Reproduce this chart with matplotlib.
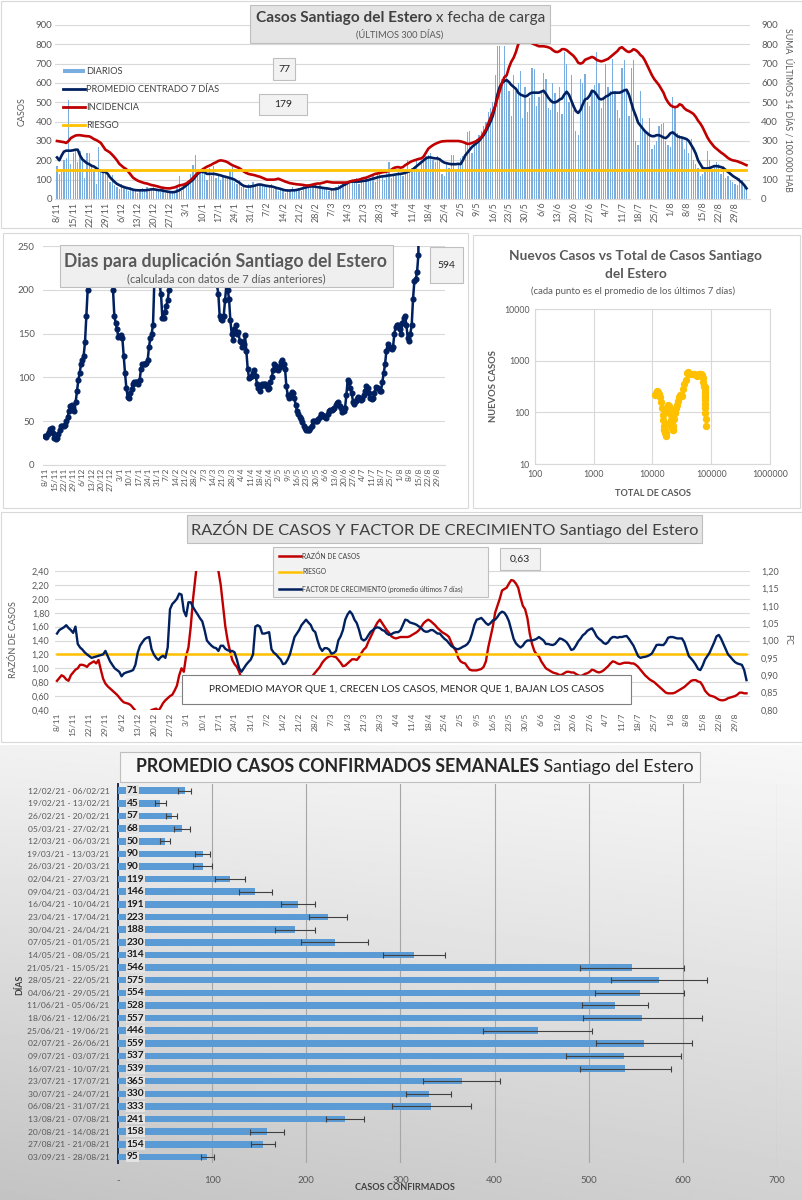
import numpy as np
import pandas as pd
import matplotlib
matplotlib.use("Agg")
import matplotlib.pyplot as plt
from matplotlib.patches import Rectangle
from matplotlib.lines import Line2D
from matplotlib.ticker import FuncFormatter, NullLocator

plt.rcParams['font.family'] = ['Lato', 'DejaVu Sans']

W, H = 803, 1200

# ---------------- data ----------------
start_date = "2020-11-08"
n_days = 300

diarios = [
    170, 130, 140, 200, 210, 510, 180,
    240, 250, 190, 250, 200, 110, 240,
    240, 170, 150, 80, 270, 140, 140,
    150, 120, 90, 125, 70, 60, 50,
    80, 60, 50, 40, 60, 50, 40,
    30, 50, 55, 40, 60, 50, 50,
    60, 45, 40, 35, 50, 30, 40,
    35, 30, 40, 60, 120, 40, 50,
    80, 100, 130, 175, 225, 130, 150,
    140, 130, 100, 160, 120, 170, 110,
    130, 100, 120, 120, 110, 150, 165,
    90, 80, 100, 60, 70, 50, 80,
    60, 90, 70, 80, 70, 80, 60,
    70, 60, 80, 50, 60, 40, 50,
    40, 30, 50, 40, 60, 50, 50,
    55, 40, 70, 60, 80, 60, 70,
    70, 50, 70, 60, 50, 60, 40,
    50, 40, 60, 70, 70, 90, 80,
    90, 80, 100, 90, 110, 80, 100,
    90, 110, 100, 100, 120, 90, 130,
    130, 120, 100, 140, 190, 110, 130,
    120, 140, 130, 120, 150, 200, 140,
    160, 170, 200, 150, 190, 210, 220,
    230, 240, 200, 190, 220, 210, 130,
    120, 180, 160, 230, 230, 140, 180,
    210, 220, 300, 345, 350, 240, 280,
    310, 330, 350, 380, 400, 450, 470,
    500, 640, 790, 790, 620, 790, 640,
    560, 430, 640, 560, 600, 660, 420,
    580, 450, 520, 680, 670, 480, 530,
    550, 650, 620, 470, 460, 600, 550,
    450, 580, 440, 760, 700, 500, 640,
    460, 350, 330, 620, 600, 645, 500,
    480, 560, 590, 760, 600, 470, 520,
    700, 580, 560, 725, 560, 460, 420,
    680, 720, 560, 430, 680, 720, 300,
    280, 560, 420, 350, 330, 420, 260,
    280, 300, 380, 390, 395, 300, 280,
    270, 530, 480, 340, 330, 310, 260,
    300, 240, 310, 200, 180, 160, 120,
    130, 140, 250, 200, 150, 170, 190,
    180, 130, 170, 110, 120, 100, 90,
    80, 70, 110, 100, 60, 50,
]

promedio_7d = [
    215, 200, 225, 245, 250, 250, 250, 252, 255, 255,
    225, 205, 195, 185, 180, 172, 168, 160, 150, 145,
    140, 140, 130, 112, 100, 88, 78, 72, 66, 62,
    58, 55, 52, 48, 46, 45, 45, 45, 45, 46,
    48, 50, 50, 48, 46, 45, 43, 40, 38, 36,
    35, 36, 40, 45, 52, 60, 70, 80, 90, 100,
    115, 130, 140, 140, 138, 130, 130, 130, 130, 128,
    125, 122, 118, 115, 112, 108, 105, 100, 92, 85,
    75, 68, 65, 64, 65, 67, 70, 74, 75, 73,
    70, 68, 66, 65, 62, 58, 55, 52, 48, 45,
    44, 44, 45, 45, 47, 50, 53, 57, 60, 63,
    65, 65, 64, 61, 60, 58, 56, 55, 53, 50,
    50, 52, 55, 62, 70, 75, 82, 88, 90, 90,
    90, 90, 92, 94, 95, 98, 102, 105, 108, 112,
    115, 117, 118, 120, 122, 123, 125, 127, 129, 130,
    132, 135, 140, 145, 150, 160, 170, 180, 190, 200,
    210, 215, 215, 212, 210, 210, 205, 195, 188, 185,
    182, 180, 180, 180, 182, 180, 200, 225, 240, 255,
    270, 280, 290, 300, 315, 330, 350, 375, 400, 430,
    480, 540, 580, 600, 610, 615, 605, 590, 580, 570,
    550, 540, 535, 530, 535, 545, 550, 550, 550, 550,
    555, 560, 545, 525, 510, 500, 500, 505, 515, 520,
    540, 555, 540, 510, 480, 455, 445, 460, 490, 515,
    520, 535, 560, 555, 540, 520, 515, 520, 530, 535,
    545, 550, 550, 550, 550, 555, 562, 565, 540, 500,
    460, 430, 395, 380, 365, 350, 340, 330, 325, 325,
    330, 330, 325, 318, 315, 325, 340, 345, 335, 325,
    320, 318, 314, 310, 300, 280, 260, 235, 200, 180,
    160, 158, 158, 160, 165, 170, 170, 168, 165, 160,
    150, 140, 130, 120, 112, 105, 95, 85, 72, 55,
]

incidencia = [
    300, 298, 296, 294, 290, 300, 315, 322, 328, 330,
    330, 328, 326, 325, 324, 318, 310, 305, 298, 290,
    272, 255, 248, 240, 228, 215, 200, 182, 172, 162,
    155, 140, 125, 110, 102, 95, 90, 86, 82, 80,
    76, 72, 70, 67, 64, 60, 58, 56, 55, 55,
    58, 60, 65, 70, 72, 75, 80, 88, 98, 110,
    122, 135, 145, 152, 160, 167, 172, 178, 185, 190,
    197, 200, 198, 195, 190, 182, 175, 170, 165, 160,
    152, 142, 135, 130, 127, 125, 122, 118, 115, 110,
    105, 100, 100, 100, 100, 102, 105, 100, 95, 90,
    86, 82, 80, 78, 76, 75, 74, 72, 70, 70,
    72, 75, 78, 80, 80, 83, 86, 90, 88, 86,
    85, 85, 85, 85, 85, 85, 86, 90, 94, 96,
    98, 100, 104, 108, 110, 115, 120, 125, 130, 132,
    135, 138, 140, 142, 145, 152, 160, 164, 165, 162,
    165, 175, 182, 190, 196, 200, 204, 208, 210, 220,
    240, 260, 270, 278, 285, 290, 295, 298, 299, 300,
    300, 300, 300, 300, 300, 298, 295, 290, 285, 286,
    290, 295, 300, 310, 320, 340, 360, 390, 420, 450,
    480, 520, 560, 600, 630, 640, 680, 710, 730, 760,
    800, 820, 825, 830, 825, 815, 805, 800, 795, 790,
    790, 790, 788, 785, 780, 770, 762, 760, 765, 775,
    775, 770, 760, 750, 740, 725, 705, 700, 705, 720,
    725, 730, 735, 730, 720, 715, 712, 715, 720, 725,
    735, 745, 755, 765, 780, 785, 775, 765, 760, 765,
    775, 770, 760, 745, 735, 715, 690, 665, 640, 620,
    605, 590, 570, 550, 520, 500, 485, 478, 475, 478,
    490, 485, 470, 460, 455, 448, 440, 425, 405, 390,
    370, 345, 320, 300, 285, 270, 260, 250, 240, 232,
    222, 212, 205, 200, 198, 195, 190, 186, 180, 175,
]
riesgo_incidencia = 150

dias_duplicacion = [
    33, 32, 35, 38, 41, 42, 36, 31, 30, 31,
    35, 40, 44, 45, 45, 46, 50, 55, 62, 67,
    68, 65, 62, 72, 85, 97, 105, 115, 120, 125,
    140, 170, 200, 240, 300, 400, 500, 500, 500, 500,
    500, 500, 500, 500, 500, 500, 500, 500, 450, 350,
    260, 200, 170, 162, 155, 146, 147, 148, 145, 125,
    105, 88, 78, 77, 82, 87, 92, 95, 95, 95,
    93, 97, 110, 115, 115, 115, 116, 120, 135, 145,
    150, 160, 210, 320, 400, 260, 205, 195, 168, 168,
    175, 182, 188, 200, 225, 300, 450, 500, 500, 500,
    500, 500, 500, 500, 500, 500, 500, 500, 500, 500,
    500, 500, 500, 500, 500, 500, 500, 500, 500, 500,
    500, 500, 500, 500, 500, 450, 350, 270, 220, 205,
    195, 170, 167, 165, 170, 188, 205, 200, 190, 165,
    150, 143, 155, 160, 150, 152, 142, 140, 135, 138,
    148, 130, 110, 99, 100, 102, 105, 108, 102, 92,
    88, 85, 90, 92, 92, 92, 90, 87, 88, 95,
    100, 108, 115, 113, 110, 108, 112, 118, 120, 115,
    110, 90, 80, 77, 80, 83, 82, 77, 68, 62,
    58, 55, 52, 49, 45, 42, 40, 40, 40, 42,
    45, 50, 50, 50, 50, 52, 55, 58, 57, 56,
    55, 54, 58, 62, 63, 63, 64, 65, 68, 71,
    72, 67, 65, 61, 62, 65, 80, 97, 95, 88,
    82, 72, 70, 73, 75, 78, 77, 74, 75, 80,
    85, 90, 88, 82, 76, 75, 76, 82, 89, 88,
    88, 85, 85, 95, 105, 115, 130, 138, 135, 133,
    132, 135, 150, 158, 160, 160, 155, 150, 162, 168,
    170, 160, 145, 142, 150, 160, 190, 210, 212, 220,
    240, 594,
]
ultimo_duplicacion = 594

total_casos = [
    11000, 11300, 11700, 12100, 12600, 13100, 13500, 14000, 14400, 14800,
    15100, 15400, 15700, 16000, 16300, 16600, 16900, 17200, 17500, 17800,
    18200, 18700, 19200, 19700, 20100, 20500, 20800, 21100, 21400, 21700,
    22000, 22300, 22700, 23200, 23800, 24500, 25300, 26200, 27200, 28300,
    29500, 30800, 32000, 33500, 35000, 36500, 38000, 40000, 42500, 45000,
    48000, 51000, 54000, 57000, 60000, 63000, 65500, 68000, 70000, 72000,
    73500, 75000, 76000, 77000, 77600, 78000, 78400, 78800, 79100, 79400,
    79600, 79800, 80000, 80100,
]
nuevos_casos = [
    215, 240, 255, 250, 245, 230, 200, 160, 120, 90,
    70, 55, 48, 45, 45, 40, 35, 40, 60, 100,
    140, 135, 130, 120, 110, 90, 70, 60, 55, 50,
    45, 45, 55, 75, 95, 110, 120, 140, 165, 200,
    215, 220, 210, 280, 350, 430, 590, 600, 560, 540,
    550, 540, 520, 510, 530, 550, 560, 550, 520, 470,
    380, 330, 320, 310, 280, 250, 220, 195, 170, 145,
    120, 95, 75, 55,
]

razon_casos = [
    0.82, 0.86, 0.90, 0.88, 0.84, 0.82, 0.90, 0.94, 0.98, 1.00,
    1.05, 1.05, 1.04, 1.02, 1.06, 1.08, 1.10, 1.07, 1.12, 0.98,
    0.85, 0.78, 0.74, 0.71, 0.68, 0.65, 0.62, 0.58, 0.54, 0.51,
    0.50, 0.49, 0.47, 0.43, 0.39, 0.37, 0.35, 0.34, 0.34, 0.35,
    0.37, 0.40, 0.41, 0.42, 0.39, 0.44, 0.50, 0.54, 0.57, 0.60,
    0.62, 0.68, 0.75, 0.90, 1.00, 0.95, 1.18, 1.30, 1.60, 2.00,
    2.30, 2.60, 2.90, 3.10, 3.20, 3.20, 3.10, 2.95, 2.80, 2.60,
    2.40, 2.20, 1.90, 1.60, 1.40, 1.25, 1.12, 1.06, 1.02, 0.95,
    0.85, 0.75, 0.70, 0.66, 0.63, 0.62, 0.61, 0.61, 0.60, 0.58,
    0.59, 0.60, 0.60, 0.61, 0.65, 0.80, 0.81, 0.78, 0.75, 0.73,
    0.74, 0.75, 0.73, 0.73, 0.74, 0.72, 0.72, 0.72, 0.71, 0.75,
    0.82, 0.90, 0.94, 0.98, 1.02, 1.08, 1.12, 1.15, 1.17, 1.18,
    1.17, 1.16, 1.12, 1.08, 1.03, 1.04, 1.07, 1.10, 1.13, 1.13,
    1.12, 1.16, 1.22, 1.27, 1.30, 1.38, 1.45, 1.52, 1.60, 1.66,
    1.70, 1.65, 1.60, 1.55, 1.51, 1.46, 1.44, 1.43, 1.44, 1.45,
    1.45, 1.45, 1.45, 1.46, 1.48, 1.50, 1.52, 1.55, 1.60, 1.65,
    1.68, 1.70, 1.68, 1.65, 1.62, 1.58, 1.55, 1.52, 1.50, 1.48,
    1.45, 1.37, 1.30, 1.25, 1.15, 1.10, 1.08, 1.07, 1.02, 0.98,
    0.97, 0.97, 0.97, 0.98, 0.99, 1.02, 1.10, 1.30, 1.45, 1.60,
    1.80, 1.90, 2.00, 2.12, 2.14, 2.16, 2.22, 2.27, 2.26, 2.22,
    2.16, 2.02, 1.90, 1.85, 1.72, 1.50, 1.35, 1.25, 1.20, 1.17,
    1.10, 1.05, 1.00, 0.98, 0.96, 0.94, 0.93, 0.92, 0.90, 0.91,
    0.93, 0.95, 0.95, 0.94, 0.94, 0.92, 0.90, 0.89, 0.90, 0.92,
    0.93, 0.95, 0.98, 0.97, 0.95, 0.94, 0.95, 0.97, 1.00, 1.03,
    1.07, 1.10, 1.09, 1.07, 1.06, 1.07, 1.08, 1.08, 1.08, 1.07,
    1.07, 1.05, 1.02, 0.98, 0.94, 0.90, 0.87, 0.84, 0.82, 0.80,
    0.77, 0.74, 0.71, 0.68, 0.65, 0.64, 0.64, 0.64, 0.65, 0.67,
    0.69, 0.71, 0.73, 0.76, 0.79, 0.82, 0.83, 0.83, 0.81, 0.80,
    0.75, 0.68, 0.64, 0.61, 0.60, 0.59, 0.57, 0.55, 0.54, 0.54,
    0.55, 0.57, 0.58, 0.59, 0.60, 0.62, 0.65, 0.65, 0.64, 0.64,
]
riesgo_razon = 1.2
ultima_razon = "0,63"

factor_crecimiento = [
    1.020, 1.030, 1.034, 1.038, 1.044, 1.036, 1.030, 1.022, 1.040, 0.990,
    0.980, 0.974, 0.966, 0.960, 0.955, 0.950, 0.952, 0.954, 0.956, 0.958,
    0.960, 0.970, 0.955, 0.940, 0.930, 0.920, 0.915, 0.910, 0.897, 0.905,
    0.908, 0.910, 0.912, 0.915, 0.930, 0.965, 0.985, 0.995, 1.004, 1.008,
    1.010, 0.975, 0.960, 0.950, 0.944, 0.952, 0.956, 0.950, 0.980, 1.090,
    1.105, 1.112, 1.120, 1.135, 1.132, 1.085, 1.070, 1.110, 1.110, 1.096,
    1.085, 1.075, 1.064, 1.055, 1.030, 1.000, 0.992, 0.985, 0.980, 0.978,
    0.970, 0.985, 0.985, 0.976, 0.972, 0.970, 0.970, 0.966, 0.945, 0.920,
    0.910, 0.920, 0.930, 0.938, 0.945, 0.960, 1.040, 1.044, 1.040, 1.020,
    1.020, 1.022, 1.024, 0.975, 0.965, 0.960, 0.952, 0.945, 0.932, 0.934,
    0.945, 0.960, 0.985, 1.010, 1.020, 1.030, 1.044, 1.052, 1.060, 1.052,
    1.045, 1.030, 1.024, 1.000, 0.980, 0.970, 0.978, 0.978, 0.974, 0.962,
    0.964, 0.970, 1.000, 1.012, 1.030, 1.060, 1.075, 1.084, 1.076, 1.060,
    1.050, 1.030, 1.005, 1.000, 1.004, 1.015, 1.025, 1.030, 1.036, 1.038,
    1.036, 1.030, 1.028, 1.020, 1.016, 1.018, 1.022, 1.024, 1.024, 1.030,
    1.045, 1.060, 1.058, 1.052, 1.050, 1.048, 1.045, 1.040, 1.035, 1.028,
    1.025, 1.026, 1.030, 1.030, 1.025, 1.020, 1.020, 1.012, 1.005, 1.000,
    0.992, 0.984, 0.980, 0.976, 0.975, 0.978, 0.982, 0.985, 0.990, 1.000,
    1.020, 1.045, 1.060, 1.062, 1.065, 1.058, 1.050, 1.045, 1.050, 1.058,
    1.060, 1.068, 1.078, 1.083, 1.080, 1.070, 1.055, 1.030, 1.005, 0.992,
    0.985, 0.980, 0.985, 0.995, 1.000, 1.000, 1.000, 1.002, 1.005, 1.010,
    1.005, 1.000, 0.990, 0.990, 0.988, 0.987, 0.990, 0.998, 1.006, 1.004,
    1.000, 0.995, 0.985, 0.973, 0.975, 0.985, 0.997, 1.005, 1.015, 1.020,
    1.028, 1.032, 1.035, 1.025, 1.012, 1.005, 1.000, 0.993, 0.990, 0.995,
    1.005, 1.010, 1.010, 1.008, 1.010, 1.010, 1.012, 1.013, 1.005, 0.995,
    0.985, 0.970, 0.955, 0.950, 0.952, 0.953, 0.955, 0.958, 0.963, 0.975,
    0.987, 0.988, 0.987, 0.987, 0.995, 1.008, 1.010, 1.010, 1.008, 1.006,
    1.006, 1.006, 0.995, 0.975, 0.955, 0.948, 0.940, 0.930, 0.918, 0.915,
    0.928, 0.945, 0.955, 0.965, 0.980, 0.995, 1.012, 1.016, 1.005, 0.990,
    0.975, 0.960, 0.953, 0.945, 0.938, 0.934, 0.932, 0.930, 0.915, 0.886,
]

semanas = [
    "12/02/21 - 06/02/21", "19/02/21 - 13/02/21", "26/02/21 - 20/02/21",
    "05/03/21 - 27/02/21", "12/03/21 - 06/03/21", "19/03/21 - 13/03/21",
    "26/03/21 - 20/03/21", "02/04/21 - 27/03/21", "09/04/21 - 03/04/21",
    "16/04/21 - 10/04/21", "23/04/21 - 17/04/21", "30/04/21 - 24/04/21",
    "07/05/21 - 01/05/21", "14/05/21 - 08/05/21", "21/05/21 - 15/05/21",
    "28/05/21 - 22/05/21", "04/06/21 - 29/05/21", "11/06/21 - 05/06/21",
    "18/06/21 - 12/06/21", "25/06/21 - 19/06/21", "02/07/21 - 26/06/21",
    "09/07/21 - 03/07/21", "16/07/21 - 10/07/21", "23/07/21 - 17/07/21",
    "30/07/21 - 24/07/21", "06/08/21 - 31/07/21", "13/08/21 - 07/08/21",
    "20/08/21 - 14/08/21", "27/08/21 - 21/08/21", "03/09/21 - 28/08/21",
]
promedio_semanal = [71, 45, 57, 68, 50, 90, 90, 119, 146, 191, 223, 188, 230, 314, 546,
                    575, 554, 528, 557, 446, 559, 537, 539, 365, 330, 333, 241, 158, 154, 95]
error_semanal = [7, 6, 6, 9, 5, 8, 10, 16, 18, 18, 20, 21, 36, 33, 55,
                 51, 47, 35, 63, 58, 51, 61, 48, 41, 24, 42, 20, 18, 13, 7]

assert len(diarios) == n_days and len(promedio_7d) == n_days and len(incidencia) == n_days
assert len(razon_casos) == n_days and len(factor_crecimiento) == n_days
assert len(total_casos) == len(nuevos_casos)

fechas = pd.date_range(start_date, periods=n_days)
tick_pos = list(range(0, n_days, 7))
tick_lab = [f"{fechas[i].day}/{fechas[i].month}" for i in tick_pos]
dias = np.arange(n_days)

# ---------------- helpers (pixel coords, origin top-left) ----------------
fig = plt.figure(figsize=(W / 100, H / 100), dpi=100, facecolor='white')

def axes_px(x0, y0, x1, y1, **kw):
    return fig.add_axes([x0 / W, 1 - y1 / H, (x1 - x0) / W, (y1 - y0) / H], **kw)

def rect_px(x0, y0, x1, y1, fc, ec='none', lw=0.8, z=1):
    fig.add_artist(Rectangle((x0 / W, 1 - y1 / H), (x1 - x0) / W, (y1 - y0) / H,
                             transform=fig.transFigure, facecolor=fc,
                             edgecolor=ec, linewidth=lw, zorder=z))

def text_px(x, y, s, **kw):
    kw.setdefault('va', 'center')
    return fig.text(x / W, 1 - y / H, s, **kw)

def two_part(xc, y, bold, normal, size, color):
    r = fig.canvas.get_renderer()
    t1 = text_px(0, y, bold, fontsize=size, fontweight='bold', color=color, zorder=5)
    t2 = text_px(0, y, "\u00a0" + normal, fontsize=size, color=color, zorder=5)
    w1 = t1.get_window_extent(r).width
    w2 = t2.get_window_extent(r).width
    x0 = xc - (w1 + w2) / 2
    t1.set_x(x0 / W)
    t2.set_x((x0 + w1) / W)

def line_px(x0, x1, y, color, lw):
    fig.add_artist(Line2D([x0 / W, x1 / W], [1 - y / H, 1 - y / H],
                          transform=fig.transFigure, color=color, lw=lw, zorder=5))

def style_time_axis(ax, size=6.5):
    ax.set_xticks(tick_pos)
    ax.set_xticklabels(tick_lab, rotation=90, fontsize=size, color='#595959')
    ax.tick_params(axis='both', length=0, pad=2)
    for s in ['top', 'right', 'left']:
        ax.spines[s].set_visible(False)
    ax.spines['bottom'].set_color('#d9d9d9')

GRID = '#d9d9d9'
TXT = '#595959'
NAVY = '#002060'
RED = '#c00000'
GOLD = '#ffc000'

# panel frames
rect_px(1, 1, 802, 228, 'white', '#d9d9d9', z=-5)
rect_px(3, 233, 468, 508, 'white', '#d9d9d9', z=-5)
rect_px(473, 235, 800, 508, 'white', '#d9d9d9', z=-5)
rect_px(1, 512, 802, 742, 'white', '#d9d9d9', z=-5)

# ---------------- panel 1 : casos diarios ----------------
px_day = 2.306
ax1 = axes_px(55, 25, 750, 199)
ax1.set_facecolor('none')
ax1.bar(dias, diarios, width=0.55, color='#7aaee0', zorder=2)
ax1.plot(dias, promedio_7d, color=NAVY, lw=1.9, zorder=4)
ax1.set_xlim((55 - 57) / px_day, (750 - 57) / px_day)
ax1.set_ylim(0, 900)
ax1.set_yticks(range(0, 901, 100))
ax1.yaxis.grid(True, color=GRID, lw=0.8)
ax1.set_axisbelow(True)
style_time_axis(ax1, 6.5)
ax1.tick_params(axis='y', labelsize=7, labelcolor=TXT)
ax1b = ax1.twinx()
ax1b.plot(dias, incidencia, color=RED, lw=1.9, zorder=3)
ax1b.plot(dias, [riesgo_incidencia] * n_days, color=GOLD, lw=2.0, zorder=4)
ax1b.set_ylim(0, 900)
ax1b.set_yticks(range(0, 901, 100))
ax1b.tick_params(axis='y', length=0, labelsize=7, labelcolor=TXT, pad=8)
for s in ax1b.spines.values():
    s.set_visible(False)

text_px(22, 112, "CASOS", rotation=90, fontsize=6.5, color=TXT, ha='center')
text_px(788, 110, "SUMA  ÚLTIMOS 14 DÍAS / 100.000 HAB", rotation=-90,
        fontsize=6.3, color=TXT, ha='center')

rect_px(250, 5, 550, 43, '#e4e4e4', '#bfbfbf')
two_part(401, 18, "Casos Santiago del Estero", "x fecha de carga", 11.1, '#404040')
text_px(400, 34, "(ÚLTIMOS 300 DÍAS)", fontsize=6.7, color=TXT, ha='center', zorder=5)

# legend
rect_px(63, 69, 85, 73, '#7aaee0', z=5)
line_px(63, 85, 89, NAVY, 2.0)
line_px(63, 85, 107, RED, 2.0)
line_px(63, 85, 125, GOLD, 2.0)
for yy, lab in [(71, "DIARIOS"), (89, "PROMEDIO CENTRADO 7 DÍAS"),
                (107, "INCIDENCIA"), (125, "RIESGO")]:
    text_px(86, yy, lab, fontsize=6.7, color='#404040', zorder=5)

rect_px(273, 58, 295, 80, '#f2f2f2', '#bfbfbf')
text_px(284, 69, "77", fontsize=7.5, color='#262626', ha='center', zorder=5)
rect_px(259, 94, 307, 115, '#f2f2f2', '#bfbfbf')
text_px(283, 104.5, "179", fontsize=7.5, color='#262626', ha='center', zorder=5)

# ---------------- panel 2 : dias para duplicacion ----------------
px_day2 = 1.3335
ax2 = axes_px(43, 246, 445, 465)
ax2.set_facecolor('none')
ax2.plot(np.arange(len(dias_duplicacion)), dias_duplicacion, color=NAVY, lw=1.8,
         marker='o', ms=3.4, zorder=3)
ax2.set_xlim((43 - 45) / px_day2, (445 - 45) / px_day2)
ax2.set_ylim(0, 250)
ax2.set_yticks(range(0, 251, 50))
ax2.yaxis.grid(True, color=GRID, lw=0.8)
ax2.set_axisbelow(True)
style_time_axis(ax2, 6.0)
ax2.tick_params(axis='y', labelsize=7, labelcolor=TXT, pad=6)

rect_px(60, 245, 393, 287, '#efefef', '#bfbfbf')
text_px(226, 262, "Dias para duplicación Santiago del Estero", fontsize=12.7,
        fontweight='bold', color=TXT, ha='center', zorder=5)
text_px(226, 279, "(calculada con datos de 7 días anteriores)", fontsize=7.9,
        color=TXT, ha='center', zorder=5)
rect_px(430, 247, 463, 283, '#f2f2f2', '#bfbfbf')
text_px(446.5, 265, str(ultimo_duplicacion), fontsize=7.5, color='#262626',
        ha='center', zorder=5)

# ---------------- panel 3 : nuevos vs total ----------------
ax3 = axes_px(535, 309, 770, 464)
ax3.set_xscale('log')
ax3.set_yscale('log')
ax3.scatter(total_casos, nuevos_casos, s=28, color=GOLD, zorder=3, linewidths=0)
ax3.set_xlim(100, 1e6)
ax3.set_ylim(10, 1e4)
ax3.set_xticks([100, 1000, 10000, 100000, 1000000])
ax3.set_yticks([10, 100, 1000, 10000])
ax3.xaxis.set_minor_locator(NullLocator())
ax3.yaxis.set_minor_locator(NullLocator())
fmt_int = FuncFormatter(lambda v, p: f"{int(round(v))}")
ax3.xaxis.set_major_formatter(fmt_int)
ax3.yaxis.set_major_formatter(fmt_int)
ax3.grid(True, color=GRID, lw=0.8)
ax3.set_axisbelow(True)
ax3.tick_params(length=0, labelsize=6.3, labelcolor=TXT, pad=4)
for s in ax3.spines.values():
    s.set_color(GRID)
text_px(636, 256, "Nuevos Casos vs Total de Casos Santiago", fontsize=9.9,
        fontweight='bold', color=TXT, ha='center')
text_px(636, 274, "del Estero", fontsize=9.9, fontweight='bold', color=TXT, ha='center')
text_px(633, 291, "(cada punto es el promedio de los últimos 7 días)", fontsize=6.9,
        color=TXT, ha='center')
text_px(494, 386, "NUEVOS CASOS", rotation=90, fontsize=6.8, fontweight='bold',
        color=TXT, ha='center')
text_px(653, 493, "TOTAL DE CASOS", fontsize=6.6, fontweight='bold', color=TXT,
        ha='center')

# ---------------- panel 4 : razon y factor de crecimiento ----------------
ax4 = axes_px(55, 571, 750, 710)
ax4.set_facecolor('none')
ax4.plot(dias, razon_casos, color=RED, lw=1.7, zorder=3)
ax4.plot(dias, [riesgo_razon] * n_days, color=GOLD, lw=1.8, zorder=4)
ax4.set_xlim((55 - 57) / px_day, (750 - 57) / px_day)
ax4.set_ylim(0.4, 2.4)
ax4.set_yticks(np.arange(0.4, 2.41, 0.2))
ax4.yaxis.set_major_formatter(FuncFormatter(lambda v, p: f"{v:.2f}".replace('.', ',')))
ax4.yaxis.grid(True, color=GRID, lw=0.8)
ax4.set_axisbelow(True)
style_time_axis(ax4, 6.0)
ax4.spines['bottom'].set_visible(False)
ax4.tick_params(axis='y', labelsize=6.5, labelcolor=TXT, pad=4)
ax4b = ax4.twinx()
ax4b.plot(dias, factor_crecimiento, color=NAVY, lw=1.7, zorder=3)
ax4b.set_ylim(0.8, 1.2)
ax4b.set_yticks(np.arange(0.8, 1.201, 0.05))
ax4b.yaxis.set_major_formatter(FuncFormatter(lambda v, p: f"{v:.2f}".replace('.', ',')))
ax4b.tick_params(axis='y', length=0, labelsize=6.5, labelcolor=TXT, pad=8)
for s in ax4b.spines.values():
    s.set_visible(False)

text_px(14, 640, "RAZÓN DE CASOS", rotation=90, fontsize=6.5, color=TXT, ha='center')
text_px(788, 640, "FC", rotation=-90, fontsize=6.5, color=TXT, ha='center')

rect_px(187, 515, 702, 543, '#e4e4e4', '#bfbfbf')
text_px(444.5, 529.5, "RAZÓN DE CASOS Y FACTOR DE CRECIMIENTO Santiago del Estero",
        fontsize=11.8, color='#404040', ha='center', zorder=5)
rect_px(273, 547, 488, 597, '#f2f2f2', '#bfbfbf')
line_px(279, 301, 556, RED, 1.8)
line_px(279, 301, 572, GOLD, 1.8)
line_px(279, 301, 589, NAVY, 1.8)
for yy, lab in [(556, "RAZÓN DE CASOS"), (572, "RIESGO"),
                (589, "FACTOR DE CRECIMIENTO (promedio últimos 7 días)")]:
    text_px(302, yy, lab, fontsize=4.9, color='#404040', zorder=5)
rect_px(500, 548, 540, 570, '#f2f2f2', '#bfbfbf')
text_px(520, 559, ultima_razon, fontsize=7.5, color='#262626', ha='center', zorder=5)
rect_px(182, 675, 631, 704, 'white', '#7f7f7f')
text_px(406.5, 689.5, "PROMEDIO MAYOR QUE 1, CRECEN LOS CASOS, MENOR QUE 1, BAJAN LOS CASOS",
        fontsize=7.3, color='#262626', ha='center', zorder=5)

# ---------------- panel 5 : promedio semanal ----------------
bg = axes_px(0, 745, 803, 1200)
gy, gx = np.mgrid[0:1:200j, 0:1:200j]
shade = 0.97 - 0.10 * gy - 0.08 * (1 - gx) * (0.3 + gy) - 0.05 * gx * gy
bg.imshow(shade, cmap='gray', vmin=0, vmax=1, aspect='auto', extent=[0, 1, 0, 1],
          origin='upper')
bg.set_axis_off()
bg.set_zorder(-3)

n_sem = len(semanas)
ax5 = axes_px(118, 784.4, 777, 1163.3)
ax5.set_facecolor('none')
ypos = np.arange(n_sem)
ax5.barh(ypos, promedio_semanal, height=0.52, color='#5b9bd5', zorder=3,
         xerr=error_semanal,
         error_kw=dict(ecolor='#404040', elinewidth=0.8, capsize=2.2, capthick=0.8, zorder=4))
ax5.set_ylim(n_sem - 0.5, -0.5)
ax5.set_xlim(0, 700)
ax5.set_yticks(ypos)
ax5.set_yticklabels(semanas, fontsize=6.1, color=TXT)
ax5.set_xticks(range(0, 701, 100))
ax5.set_xticklabels(["-"] + [str(v) for v in range(100, 701, 100)], fontsize=7, color=TXT)
ax5.xaxis.grid(True, color='#a6a6a6', lw=0.8)
ax5.set_axisbelow(True)
ax5.tick_params(length=0, pad=6)
ax5.tick_params(axis='x', pad=9)
for s in ['top', 'right', 'bottom']:
    ax5.spines[s].set_visible(False)
ax5.spines['left'].set_color('#1f2f4f')
ax5.spines['left'].set_linewidth(1.4)
for i, v in enumerate(promedio_semanal):
    ax5.text(9, i, str(v), va='center', ha='left', fontsize=7.3, fontweight='bold',
             color='#1a1a1a', zorder=6,
             bbox=dict(facecolor='#e3e3e3', edgecolor='none', pad=0.6))

rect_px(120, 752, 700, 782, '#f7f7f7', '#bfbfbf')
two_part(415, 767, "PROMEDIO CASOS CONFIRMADOS SEMANALES", "Santiago del Estero", 12.8, '#262626')
text_px(20, 985, "DÍAS", rotation=90, fontsize=6.3, fontweight='bold', color='#404040',
        ha='center')
text_px(405, 1188, "CASOS CONFIRMADOS", fontsize=6.5, fontweight='bold', color='#404040',
        ha='center')

fig.savefig("out.png", dpi=100, facecolor=fig.get_facecolor())
